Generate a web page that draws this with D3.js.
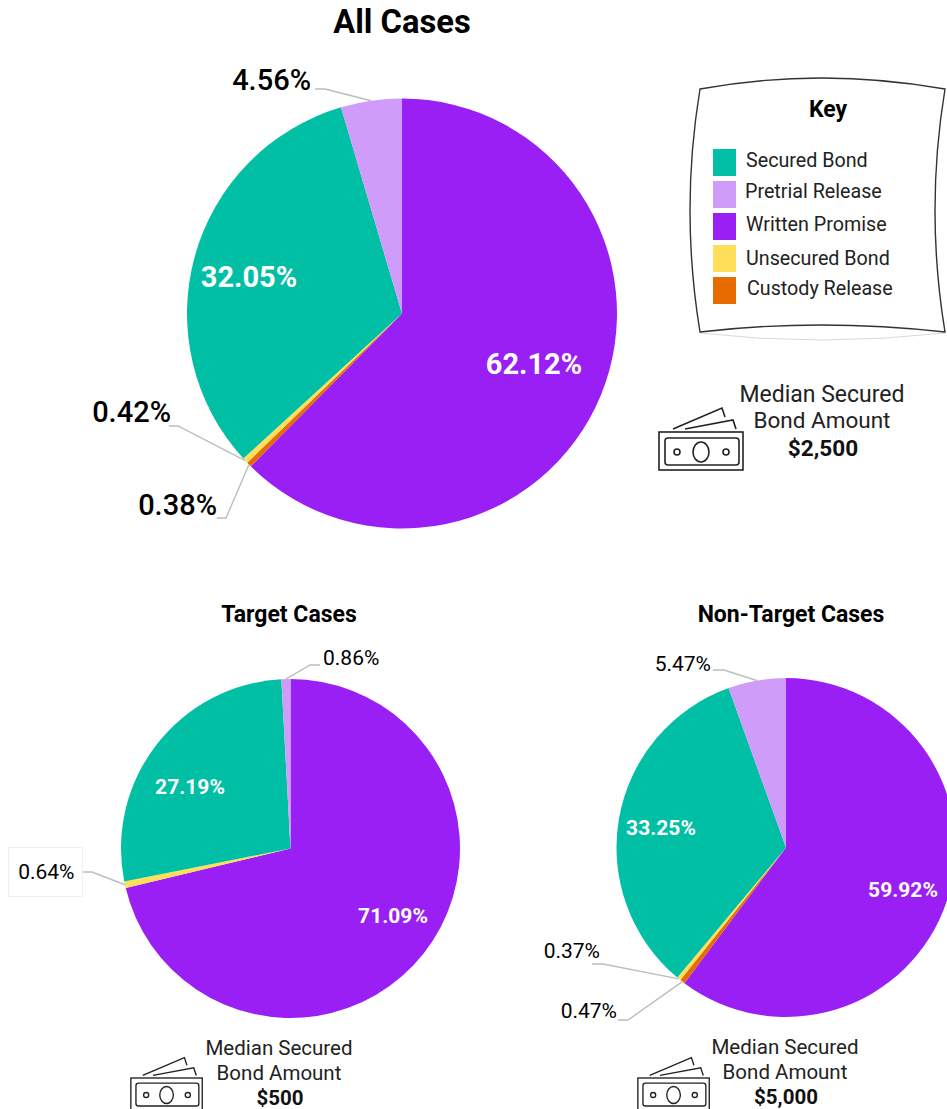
<!DOCTYPE html>
<html><head><meta charset="utf-8">
<script src="https://cdnjs.cloudflare.com/ajax/libs/d3/7.8.5/d3.min.js"></script>
<style>html,body{margin:0;padding:0;background:#fff}svg{display:block}text{font-family:Roboto,sans-serif}</style>
</head><body><svg id="c" width="947" height="1109"></svg>
<script>
// ---- data ----
const categories = ["Written Promise","Custody Release","Unsecured Bond","Secured Bond","Pretrial Release"];
const allCases = [62.12,0.38,0.42,32.05,4.56];
const targetCases = [71.09,0,0.64,27.19,0.86];
const nonTargetCases = [59.92,0.47,0.37,33.25,5.47];
const legendOrder = ["Secured Bond","Pretrial Release","Written Promise","Unsecured Bond","Custody Release"];
const chartTitles = ["All Cases","Target Cases","Non-Target Cases"];
const medians = ["$2,500","$500","$5,000"];
// ---- layout ----
const colors = d3.scaleOrdinal(categories,["#9a1ff5","#e66c00","#ffdf5a","#00bfa5","#d09cfa"]);
const svg = d3.select("#c");
const layouts = [
 {values:allCases,cx:402,cy:313.5,r:215,title:[402,33,32.7],inFont:29,outFont:29,outWeight:500,
  inside:{0:[534,364],3:[249,277]},
  outside:{4:{t:[311,90],l:[[315,89],[325,89]]},2:{t:[171,422],l:[[169,426],[178,426]]},1:{t:[217,515],l:[[217,518],[226,518]]}},
  med:{x:822,ys:[402,428,455],font:23,font2:22.5,bold:22.6},icon:[658,432,1]},
 {values:targetCases,cx:290.5,cy:848.5,r:169.5,title:[289,622,23],inFont:21,outFont:21,outWeight:400,
  inside:{0:[393,915],3:[190,786]},
  outside:{4:{t:[323,665],l:[[320,665],[310,665]],start:1},2:{t:[74.5,879],l:[[83,872],[92,872]]}},
  med:{x:279,ys:[1055,1080,1104],font:20.5,font2:20.5,bold:20.5},icon:[130,1078,.85]},
 {values:nonTargetCases,cx:786,cy:847.5,r:169.5,title:[791,622,23],inFont:21,outFont:21,outWeight:400,
  inside:{0:[903,889],3:[661,827]},
  outside:{4:{t:[711,671],l:[[713,670],[724,670]]},2:{t:[600,958],l:[[592,964],[603,964]]},1:{t:[617,1018],l:[[618,1020],[628,1020]]}},
  med:{x:785,ys:[1054,1079,1103],font:20.5,font2:20.5,bold:20.5},icon:[637,1078,.85]}
];
const pie = d3.pie().sort(null).value(d=>d);
// faint box behind the 0.64% label
svg.append("rect").attr("x",8.5).attr("y",847.5).attr("width",74).attr("height",49).attr("fill","#fff").attr("stroke","#f0f0f0");

layouts.forEach((L,i)=>{
  const g = svg.append("g").attr("transform",`translate(${L.cx},${L.cy})`);
  const arc = d3.arc().innerRadius(0).outerRadius(L.r);
  const arcs = pie(L.values);
  g.selectAll("path").data(arcs).join("path").attr("d",arc).attr("fill",(d,j)=>colors(categories[j]));
  svg.append("text").attr("x",L.title[0]).attr("y",L.title[1]).attr("text-anchor","middle")
     .attr("font-size",L.title[2]).attr("font-weight",700).attr("fill","#000").text(chartTitles[i]);
  arcs.forEach((d,j)=>{
    const lab = d3.format(".2f")(L.values[j])+"%";
    if(L.inside[j]){
      svg.append("text").attr("x",L.inside[j][0]).attr("y",L.inside[j][1]).attr("dy","0.36em").attr("text-anchor","middle")
        .attr("font-size",L.inFont).attr("font-weight",700).attr("fill","#fff").text(lab);
    }
    if(L.outside[j]){
      const o=L.outside[j], m=(d.startAngle+d.endAngle)/2;
      const edge=[L.cx+Math.sin(m)*L.r,L.cy-Math.cos(m)*L.r];
      const pts=[o.l[0],o.l[1],edge];
      svg.append("path").attr("d",d3.line()(pts)).attr("fill","none").attr("stroke","#bdbdbd").attr("stroke-width",1.4);
      svg.append("text").attr("x",o.t[0]).attr("y",o.t[1]).attr("text-anchor",o.start?"start":"end")
        .attr("font-size",L.outFont).attr("font-weight",L.outWeight).attr("fill","#000").text(lab);
    }
  });
  // median
  ["Median Secured","Bond Amount"].forEach((s,k)=>{
    svg.append("text").attr("x",L.med.x).attr("y",L.med.ys[k]).attr("text-anchor","middle")
      .attr("font-size",k?L.med.font2:L.med.font).attr("fill","#222").text(s);
  });
  svg.append("text").attr("x",L.med.x+1).attr("y",L.med.ys[2]+1).attr("text-anchor","middle")
      .attr("font-size",L.med.bold).attr("font-weight",700).attr("fill","#111").text(medians[i]);
  // money icon
  const ic = svg.append("g").attr("transform",`translate(${L.icon[0]},${L.icon[1]}) scale(${L.icon[2]})`)
     .attr("fill","none").attr("stroke","#222").attr("stroke-width",1.6);
  ic.append("rect").attr("x",1).attr("y",0).attr("width",84).attr("height",38);
  ic.append("rect").attr("x",7).attr("y",6).attr("width",74).attr("height",27).attr("rx",3);
  ic.append("circle").attr("cx",19).attr("cy",20).attr("r",3);
  ic.append("circle").attr("cx",68).attr("cy",20).attr("r",3);
  ic.append("ellipse").attr("cx",43).attr("cy",20).attr("rx",8).attr("ry",10);
  ic.append("path").attr("d","M15,-3L64,-24L67,-15");
  ic.append("path").attr("d","M27,-3L75,-12L78,-3");
});

// ---- key ----
svg.append("path").attr("d","M700,91Q820,65 945,91M700,333Q820,347 945,333").attr("fill","none").attr("stroke","#d8d8d8").attr("stroke-width",1);
svg.append("path").attr("d","M700,89Q820,67 945,89Q925,210 945,332Q820,318 700,332Q680,210 700,89Z")
   .attr("fill","#fff").attr("stroke","#333").attr("stroke-width",1.4);
svg.append("text").attr("x",828).attr("y",117).attr("text-anchor","middle").attr("font-size",23).attr("font-weight",700).attr("fill","#000").text("Key");
const keyY = d3.scalePoint().domain(legendOrder).range([149,277]);
const keyText = {"Secured Bond":[746,167],"Pretrial Release":[745,198],"Written Promise":[746,231],"Unsecured Bond":[746,265],"Custody Release":[747,295]};
svg.selectAll(".sw").data(legendOrder).join("rect").attr("class","sw")
   .attr("x",713).attr("y",d=>keyY(d)).attr("width",23).attr("height",27).attr("fill",d=>colors(d));
svg.selectAll(".kt").data(legendOrder).join("text").attr("class","kt")
   .attr("x",d=>keyText[d][0]).attr("y",d=>keyText[d][1]).attr("font-size",19.7).attr("fill","#222").text(d=>d);
</script></body></html>
